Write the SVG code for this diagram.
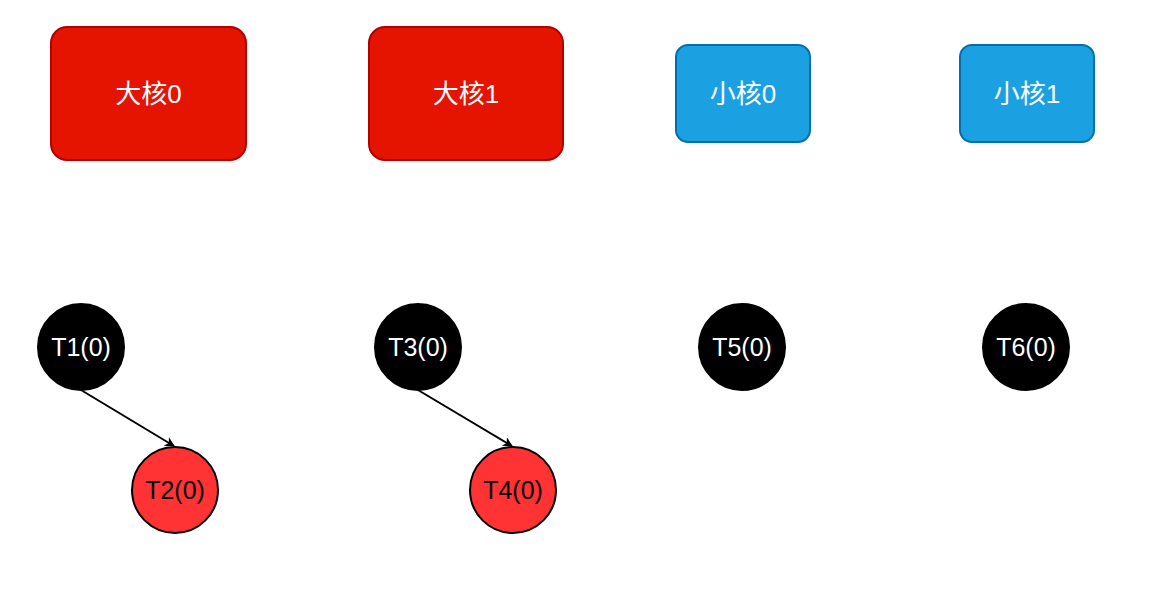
<svg xmlns="http://www.w3.org/2000/svg" width="1156" height="595" viewBox="0 0 1156 595">
<style>
text{font-family:"Liberation Sans","Noto Sans CJK SC",sans-serif;text-anchor:middle;dominant-baseline:central}
.big{fill:#e51400;stroke:#b20000;stroke-width:2}
.small{fill:#1ba1e2;stroke:#006eaf;stroke-width:2}
.bt{fill:#fff;font-size:26px}
.tb{fill:#000;stroke:#000;stroke-width:2}
.tr{fill:#ff3333;stroke:#000;stroke-width:2}
.ct{font-size:25px}
</style>
<defs><marker id="a" markerWidth="10" markerHeight="10" refX="9" refY="5" orient="auto" markerUnits="userSpaceOnUse"><path d="M0,0 L10,5 L0,10 L3,5 z" fill="#000"/></marker></defs>
<rect width="1156" height="595" fill="#fff"/>
<g id="big0"><rect class="big" x="51" y="27" width="195" height="133" rx="16"/><text class="bt" x="148.5" y="94">大核0</text></g>
<g id="big1"><rect class="big" x="369" y="27" width="194" height="133" rx="16"/><text class="bt" x="466" y="94">大核1</text></g>
<g id="small0"><rect class="small" x="676" y="45" width="134" height="97" rx="12"/><text class="bt" x="743" y="94">小核0</text></g>
<g id="small1"><rect class="small" x="960" y="45" width="134" height="97" rx="12"/><text class="bt" x="1027" y="94">小核1</text></g>
<g id="connectors" stroke="#000" stroke-width="2" fill="none">
<line x1="81" y1="390" x2="174" y2="446" marker-end="url(#a)"/>
<line x1="418" y1="390" x2="512" y2="446" marker-end="url(#a)"/>
</g>
<g id="T1"><circle class="tb" cx="81" cy="347" r="43"/><text class="ct" x="81" y="347" fill="#fff">T1(0)</text></g>
<g id="T2"><circle class="tr" cx="175" cy="490" r="43"/><text class="ct" x="175" y="490">T2(0)</text></g>
<g id="T3"><circle class="tb" cx="418" cy="347" r="43"/><text class="ct" x="418" y="347" fill="#fff">T3(0)</text></g>
<g id="T4"><circle class="tr" cx="513" cy="490" r="43"/><text class="ct" x="513" y="490">T4(0)</text></g>
<g id="T5"><circle class="tb" cx="742" cy="347" r="43"/><text class="ct" x="742" y="347" fill="#fff">T5(0)</text></g>
<g id="T6"><circle class="tb" cx="1026" cy="347" r="43"/><text class="ct" x="1026" y="347" fill="#fff">T6(0)</text></g>
</svg>
